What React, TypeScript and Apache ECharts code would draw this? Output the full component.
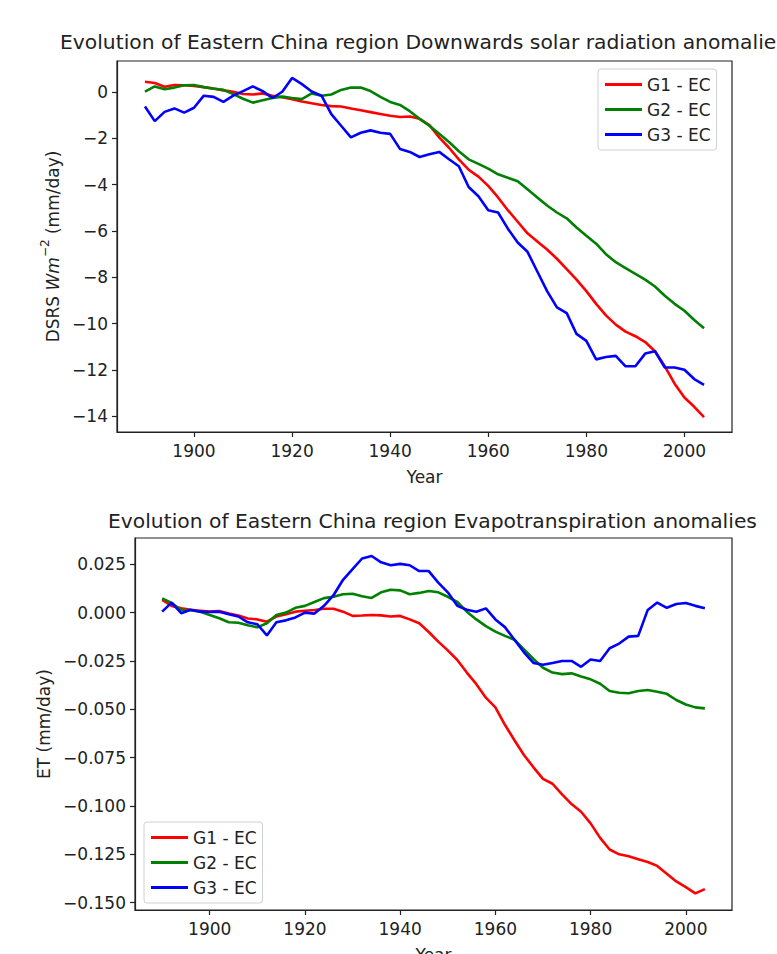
import React, { useEffect, useRef } from "react";
import * as echarts from "echarts";

const YEARS = [
  1890, 1892, 1894, 1896, 1898, 1900, 1902, 1904, 1906, 1908, 1910, 1912, 1914, 1916, 1918, 1920,
  1922, 1924, 1926, 1928, 1930, 1932, 1934, 1936, 1938, 1940, 1942, 1944, 1946, 1948, 1950, 1952,
  1954, 1956, 1958, 1960, 1962, 1964, 1966, 1968, 1970, 1972, 1974, 1976, 1978, 1980, 1982, 1984,
  1986, 1988, 1990, 1992, 1994, 1996, 1998, 2000, 2002, 2004,
];

const SERIES_NAMES = ["G1 - EC", "G2 - EC", "G3 - EC"];
const SERIES_COLORS = ["#ff0000", "#008000", "#0000ff"];

// Top chart: Downwards solar radiation anomalies
const DSRS_G1 = [
  0.45, 0.4, 0.24, 0.31, 0.3, 0.27, 0.22, 0.16, 0.08, 0.02, -0.08, -0.1, -0.05, -0.15, -0.22, -0.3,
  -0.4, -0.48, -0.55, -0.6, -0.62, -0.7, -0.78, -0.86, -0.94, -1.02, -1.07, -1.05, -1.15, -1.42, -1.95, -2.4,
  -2.9, -3.35, -3.65, -4.05, -4.55, -5.1, -5.6, -6.1, -6.45, -6.8, -7.2, -7.65, -8.1, -8.6, -9.15, -9.65,
  -10.05, -10.35, -10.55, -10.8, -11.2, -11.85, -12.6, -13.2, -13.6, -14.05,
];
const DSRS_G2 = [
  0.03, 0.25, 0.13, 0.2, 0.3, 0.31, 0.22, 0.15, 0.1, -0.08, -0.28, -0.45, -0.35, -0.25, -0.19, -0.25,
  -0.3, -0.05, -0.15, -0.1, 0.1, 0.2, 0.2, 0.05, -0.2, -0.42, -0.55, -0.82, -1.15, -1.45, -1.8, -2.15,
  -2.55, -2.9, -3.1, -3.3, -3.55, -3.7, -3.85, -4.2, -4.55, -4.9, -5.2, -5.45, -5.85, -6.2, -6.55, -7.0,
  -7.35, -7.6, -7.85, -8.1, -8.4, -8.8, -9.15, -9.45, -9.85, -10.2,
];
const DSRS_G3 = [
  -0.62, -1.25, -0.85, -0.7, -0.88, -0.67, -0.15, -0.2, -0.42, -0.15, 0.05, 0.25, 0.05, -0.25, 0.02, 0.62,
  0.35, 0.03, -0.15, -0.95, -1.45, -1.95, -1.75, -1.65, -1.75, -1.8, -2.45, -2.58, -2.8, -2.68, -2.58, -2.9,
  -3.2, -4.1, -4.5, -5.1, -5.2, -5.9, -6.5, -6.9, -7.75, -8.6, -9.3, -9.55, -10.45, -10.75, -11.55, -11.45,
  -11.4, -11.85, -11.85, -11.3, -11.2, -11.9, -11.9, -12.0, -12.4, -12.65,
];

// Bottom chart: Evapotranspiration anomalies
const ET_G1 = [
  0.0066, 0.0035, 0.0023, 0.0015, 0.001, 0.0005, 0.0008, -0.0005, -0.0015, -0.003, -0.0035, -0.0047, -0.002, -0.0008, 0.0005, 0.001,
  0.0014, 0.002, 0.002, 0.0005, -0.0017, -0.0015, -0.0012, -0.0014, -0.002, -0.0017, -0.0035, -0.0055, -0.01, -0.015, -0.0195, -0.0245,
  -0.031, -0.037, -0.044, -0.049, -0.058, -0.066, -0.0736, -0.08, -0.086, -0.0885, -0.094, -0.099, -0.103, -0.109, -0.1165, -0.1225,
  -0.125, -0.126, -0.1275, -0.129, -0.131, -0.135, -0.139, -0.142, -0.1452, -0.143,
];
const ET_G2 = [
  0.0074, 0.005, 0.0014, 0.0012, 0.0005, -0.0012, -0.0029, -0.005, -0.0052, -0.0065, -0.0076, -0.0055, -0.0012, 0.0, 0.0025, 0.0035,
  0.0055, 0.0075, 0.0082, 0.0095, 0.0098, 0.0085, 0.0076, 0.0105, 0.0118, 0.0115, 0.0095, 0.0102, 0.0112, 0.0105, 0.0082, 0.0055,
  0.0005, -0.0035, -0.007, -0.0098, -0.012, -0.014, -0.019, -0.024, -0.0285, -0.031, -0.0318, -0.0314, -0.033, -0.0345, -0.0368, -0.0405,
  -0.0414, -0.0417, -0.0405, -0.04, -0.0409, -0.042, -0.0452, -0.0475, -0.049, -0.0495,
];
const ET_G3 = [
  0.0005, 0.0052, -0.0003, 0.0015, 0.0005, 0.0003, 0.0005, -0.0008, -0.002, -0.005, -0.006, -0.0118, -0.005, -0.004, -0.0025, 0.0,
  -0.0005, 0.0035, 0.009, 0.017, 0.0225, 0.028, 0.0293, 0.026, 0.0245, 0.0252, 0.0245, 0.0215, 0.0215, 0.0155, 0.0105, 0.0035,
  0.0015, 0.0005, 0.0022, -0.0035, -0.0075, -0.014, -0.0205, -0.026, -0.027, -0.026, -0.025, -0.025, -0.028, -0.0242, -0.025, -0.0184,
  -0.016, -0.0124, -0.012, 0.0014, 0.0052, 0.0025, 0.0045, 0.005, 0.0035, 0.0023,
];

const X_TICKS = [1900, 1920, 1940, 1960, 1980, 2000];
const DSRS_TICKS = [-14, -12, -10, -8, -6, -4, -2, 0];
const ET_TICKS = [-0.15, -0.125, -0.1, -0.075, -0.05, -0.025, 0, 0.025];

const TITLE_TOP = "Evolution of Eastern China region Downwards solar radiation anomalie";
const TITLE_BOTTOM = "Evolution of Eastern China region Evapotranspiration anomalies";

const FONT = "DejaVu Sans";
const TXT = "#222";

const fmtMinus = (v: number, digits: number) => {
  const s = Math.abs(v).toFixed(digits);
  return (v < -1e-12 ? "\u2212" : "") + s;
};

export default function App() {
  const ref = useRef<HTMLDivElement>(null);
  useEffect(() => {
    if (!ref.current) return;
    const chart = echarts.init(ref.current, undefined, { renderer: "svg" });

    const xAxisBase = (gridIndex: number) => ({
      type: "value",
      gridIndex,
      min: 1884.3,
      max: 2009.7,
      name: "Year",
      nameLocation: "middle",
      nameGap: 36,
      nameTextStyle: { fontFamily: FONT, fontSize: 17, color: TXT },
      splitLine: { show: false },
      axisLine: { show: true, onZero: false, lineStyle: { color: "#222", width: 1.2 } },
      axisTick: { show: true, length: 5, customValues: X_TICKS, lineStyle: { color: "#222", width: 1.2 } },
      axisLabel: {
        customValues: X_TICKS,
        margin: 10,
        fontFamily: FONT,
        fontSize: 17,
        color: TXT,
        formatter: (v: number) => String(v),
      },
    });

    const mk = (data: number[]) => YEARS.map((y, i) => [y, data[i]]);
    const topData = [DSRS_G1, DSRS_G2, DSRS_G3];
    const botData = [ET_G1, ET_G2, ET_G3];

    const series: any[] = [];
    topData.forEach((d, i) =>
      series.push({
        type: "line",
        name: SERIES_NAMES[i],
        xAxisIndex: 0,
        yAxisIndex: 0,
        data: mk(d),
        symbol: "none",
        showSymbol: false,
        color: SERIES_COLORS[i],
        lineStyle: { color: SERIES_COLORS[i], width: 2.6 },
      })
    );
    botData.forEach((d, i) =>
      series.push({
        type: "line",
        name: SERIES_NAMES[i],
        xAxisIndex: 1,
        yAxisIndex: 1,
        data: mk(d),
        symbol: "none",
        showSymbol: false,
        color: SERIES_COLORS[i],
        lineStyle: { color: SERIES_COLORS[i], width: 2.6 },
      })
    );

    const legendBase = {
      orient: "vertical",
      icon: "rect",
      itemWidth: 37,
      itemHeight: 3,
      itemGap: 8,
      padding: [7, 6, 7, 7],
      backgroundColor: "rgba(255,255,255,0.85)",
      borderColor: "#d0d0d0",
      borderWidth: 1,
      borderRadius: 3,
      selectedMode: false,
      textStyle: { fontFamily: FONT, fontSize: 17, color: TXT, lineHeight: 17 },
      data: SERIES_NAMES,
    };

    chart.setOption({
      animation: false,
      backgroundColor: "#ffffff",
      title: [
        {
          text: TITLE_TOP,
          left: 60,
          top: 32,
          textStyle: { fontFamily: FONT, fontSize: 20.3, fontWeight: "normal", color: TXT },
          padding: 0,
        },
        {
          text: TITLE_BOTTOM,
          left: 108,
          top: 511,
          textStyle: { fontFamily: FONT, fontSize: 20.3, fontWeight: "normal", color: TXT },
          padding: 0,
        },
      ],
      legend: [
        { ...legendBase, left: 598, top: 69 },
        { ...legendBase, left: 144, top: 822 },
      ],
      grid: [
        { left: 117, top: 61, width: 615, height: 371, show: true, borderColor: "#222", borderWidth: 1.2, containLabel: false, outerBoundsMode: "none" },
        { left: 135, top: 538, width: 597, height: 372, show: true, borderColor: "#222", borderWidth: 1.2, containLabel: false, outerBoundsMode: "none" },
      ],
      xAxis: [xAxisBase(0), xAxisBase(1)],
      yAxis: [
        {
          type: "value",
          gridIndex: 0,
          min: -14.69,
          max: 1.35,
          name: "{n|DSRS }{i|Wm}{s|\u22122}{n| (mm/day)}",
          nameLocation: "middle",
          nameRotate: 90,
          nameGap: 52,
          nameTextStyle: {
            fontFamily: FONT,
            fontSize: 17,
            color: TXT,
            rich: {
              n: { fontFamily: FONT, fontSize: 17, color: TXT, lineHeight: 22, verticalAlign: "bottom" },
              i: { fontFamily: FONT, fontSize: 17, color: TXT, fontStyle: "italic", lineHeight: 22, verticalAlign: "bottom" },
              s: { fontFamily: FONT, fontSize: 12, color: TXT, lineHeight: 22, verticalAlign: "top" },
            },
          },
          splitLine: { show: false },
          axisLine: { show: true, onZero: false, lineStyle: { color: "#222", width: 1.2 } },
          axisTick: { show: true, length: 5, customValues: DSRS_TICKS, lineStyle: { color: "#222", width: 1.2 } },
          axisLabel: {
            customValues: DSRS_TICKS,
            margin: 9,
            fontFamily: FONT,
            fontSize: 17,
            color: TXT,
            formatter: (v: number) => fmtMinus(v, 0),
          },
        },
        {
          type: "value",
          gridIndex: 1,
          min: -0.1538,
          max: 0.0386,
          name: "ET (mm/day)",
          nameLocation: "middle",
          nameRotate: 90,
          nameGap: 81,
          nameTextStyle: { fontFamily: FONT, fontSize: 17, color: TXT },
          splitLine: { show: false },
          axisLine: { show: true, onZero: false, lineStyle: { color: "#222", width: 1.2 } },
          axisTick: { show: true, length: 5, customValues: ET_TICKS, lineStyle: { color: "#222", width: 1.2 } },
          axisLabel: {
            customValues: ET_TICKS,
            margin: 9,
            fontFamily: FONT,
            fontSize: 17,
            color: TXT,
            formatter: (v: number) => fmtMinus(v, 3),
          },
        },
      ],
      series,
    });

    return () => chart.dispose();
  }, []);

  return (
    <div
      ref={ref}
      style={{ position: "fixed", left: 0, top: 0, width: 777, height: 954, background: "#fff" }}
    />
  );
}
